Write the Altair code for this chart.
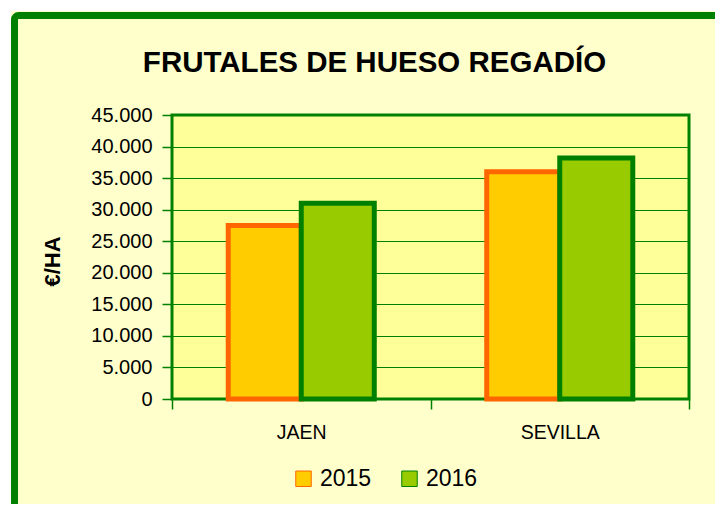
import altair as alt
import pandas as pd

# ---- data ----
cities = ["JAEN", "SEVILLA"]
years = ["2015", "2016"]
values_2015 = [27500, 36000]
values_2016 = [31000, 38200]
y_ticks = [0, 5000, 10000, 15000, 20000, 25000, 30000, 35000, 40000, 45000]
title_text = "FRUTALES DE HUESO REGADÍO"

fill_colors = ["#FFCC00", "#99CC00"]
stroke_colors = ["#FF6600", "#008000"]

rows = []
for c, v in zip(cities, values_2015):
    rows.append({"city": c, "year": "2015", "value": v})
for c, v in zip(cities, values_2016):
    rows.append({"city": c, "year": "2016", "value": v})
df = pd.DataFrame(rows)

FONT = "Liberation Sans"
GREEN = "#008000"

legend = alt.Legend(
    title=None, orient="none", legendX=120, legendY=352, direction="horizontal",
    symbolType="square", symbolSize=240, symbolStrokeWidth=1,
    labelFont=FONT, labelFontSize=23, labelColor="black", labelOffset=5,
    columnPadding=26,
)

bars = alt.Chart(df).mark_bar(strokeWidth=5, strokeJoin="miter").encode(
    x=alt.X("city:N", sort=cities,
            scale=alt.Scale(paddingInner=0, paddingOuter=0),
            axis=alt.Axis(title=None, labelAngle=0, tickBand="extent", tickSize=10,
                          tickColor=GREEN, tickWidth=1.5, labelPadding=14, labelFont=FONT,
                          labelFontSize=19.5, labelColor="black", grid=False, domain=False)),
    xOffset=alt.XOffset("year:N", sort=years,
                        scale=alt.Scale(paddingInner=0, paddingOuter=0.77)),
    y=alt.Y("value:Q", scale=alt.Scale(domain=[0, 45000], nice=False),
            axis=alt.Axis(values=y_ticks,
                          labelExpr="replace(format(datum.value, ',d'), ',', '.')",
                          tickSize=10, tickColor=GREEN, tickWidth=1.5, labelPadding=10,
                          grid=True, gridColor=GREEN, gridWidth=1.2, domain=False,
                          labelFont=FONT, labelFontSize=20, labelColor="black",
                          title="€/HA", titleFont=FONT, titleFontSize=22,
                          titleFontWeight="bold", titleColor="black", titleAngle=270,
                          titleX=-113, titleY=146, titleBaseline="alphabetic",
                          titleAlign="center")),
    fill=alt.Fill("year:N", sort=years,
                  scale=alt.Scale(domain=years, range=fill_colors), legend=legend),
    stroke=alt.Stroke("year:N", sort=years,
                      scale=alt.Scale(domain=years, range=stroke_colors), legend=legend),
)

frame_df = pd.DataFrame({"frame": [0]})
white_edge = alt.Chart(frame_df).mark_rect(filled=False, stroke="white", strokeWidth=6).encode(
    x=alt.value(-164), y=alt.value(-107), x2=alt.value(800), y2=alt.value(600)
)
green_frame = alt.Chart(frame_df).mark_rect(filled=False, stroke=GREEN, strokeWidth=7,
                                            cornerRadius=4).encode(
    x=alt.value(-157.5), y=alt.value(-99.5), x2=alt.value(800), y2=alt.value(600)
)
title_mark = alt.Chart(frame_df).mark_text(
    text=title_text, font=FONT, fontSize=29.5, fontWeight="bold", color="black",
    align="center", baseline="alphabetic"
).encode(x=alt.value(202.5), y=alt.value(-43))

chart = alt.layer(bars, white_edge, green_frame, title_mark).properties(
    width=517, height=284,
    autosize=alt.AutoSizeParams(type="none"),
    padding={"left": 164, "top": 107, "right": 26, "bottom": 105},
    background="#FFFFCC",
).configure_view(fill="#FFFF99", stroke=GREEN, strokeWidth=3)

chart.save("out.html", embed_options={"renderer": "svg", "actions": False})
